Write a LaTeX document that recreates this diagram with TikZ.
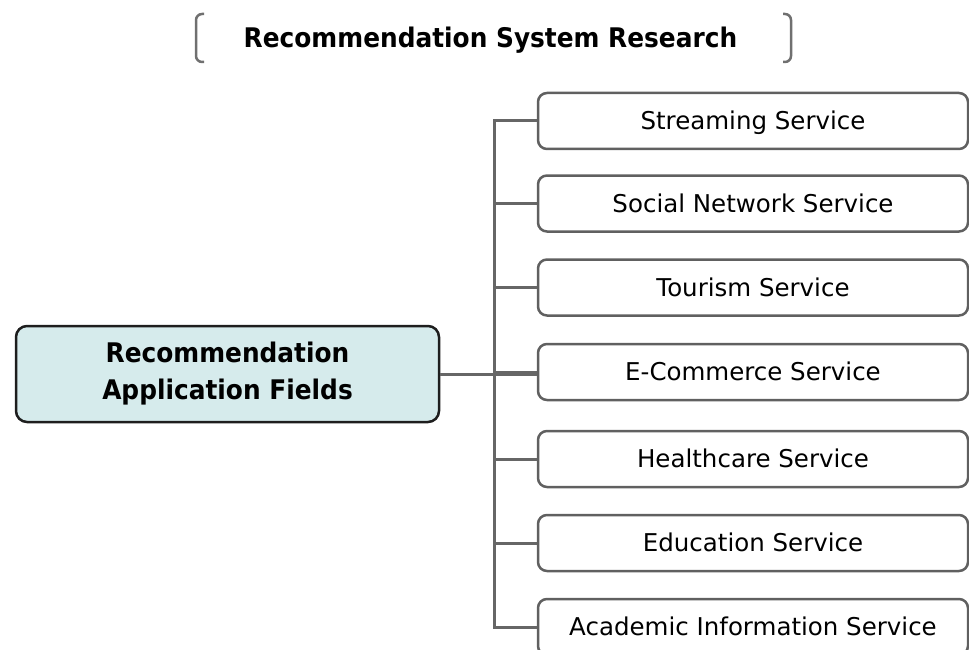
\documentclass[tikz,border=0pt]{standalone}
\usepackage{fontspec}
\setmainfont{DejaVu Sans}
\newfontfamily\narrowfont{DejaVu Sans}[FakeStretch=0.92]
\definecolor{linegray}{HTML}{666666}
\definecolor{boxgray}{HTML}{606060}
\definecolor{rootborder}{HTML}{1E1E1E}
\definecolor{rootfill}{HTML}{D6EBEC}
\definecolor{bracketgray}{HTML}{707070}
\tikzset{
  servicebox/.style={draw=boxgray, line width=2.5pt, rounded corners=9pt, fill=white,
    minimum width=430pt, minimum height=56pt, inner sep=0pt,
    text height=17.9pt, text depth=0pt,
    font=\fontsize{24.5}{29}\selectfont},
  rootbox/.style={draw=rootborder, line width=2.5pt, rounded corners=11pt, fill=rootfill,
    minimum width=423pt, minimum height=96pt, inner sep=0pt, align=center,
    font=\narrowfont\bfseries\fontsize{27}{37}\selectfont},
  titletext/.style={inner sep=0pt, font=\narrowfont\bfseries\fontsize{27}{32}\selectfont},
  conn/.style={draw=linegray, line width=3pt},
  bracketline/.style={draw=bracketgray, line width=2.5pt, rounded corners=6pt}
}
\begin{document}
\begin{tikzpicture}[x=1pt,y=-1pt]
\useasboundingbox (0,0) rectangle (969,650);
\clip (0,0) rectangle (969,650);
% title
\node[titletext, anchor=base] (title) at (490.5,48) {Recommendation System Research};
\draw[bracketline] (204,14) -- (196,14) -- (196,62) -- (204,62);
\draw[bracketline] (783,14) -- (791,14) -- (791,62) -- (783,62);
% spine
\coordinate (spine) at (494,0);
% root
\node[rootbox] (root) at (227.5,374) {Recommendation\\Application Fields};
% services
\node[servicebox] (s1) at (753,121) {Streaming Service};
\node[servicebox] (s2) at (753,203.5) {Social Network Service};
\node[servicebox] (s3) at (753,287.5) {Tourism Service};
\node[servicebox] (s4) at (753,372) {E-Commerce Service};
\node[servicebox] (s5) at (753,459) {Healthcare Service};
\node[servicebox] (s6) at (753,543) {Education Service};
\node[servicebox] (s7) at (753,627) {Academic Information Service};
% connectors
\draw[conn] (s1.west) -- (s1.west -| spine) -- (s7.west -| spine) -- (s7.west);
\foreach \k in {2,...,6}{\draw[conn] (s\k.west) -- (s\k.west -| spine);}
\draw[conn] (root.east) -- (root.east -| s4.west);
\end{tikzpicture}
\end{document}
